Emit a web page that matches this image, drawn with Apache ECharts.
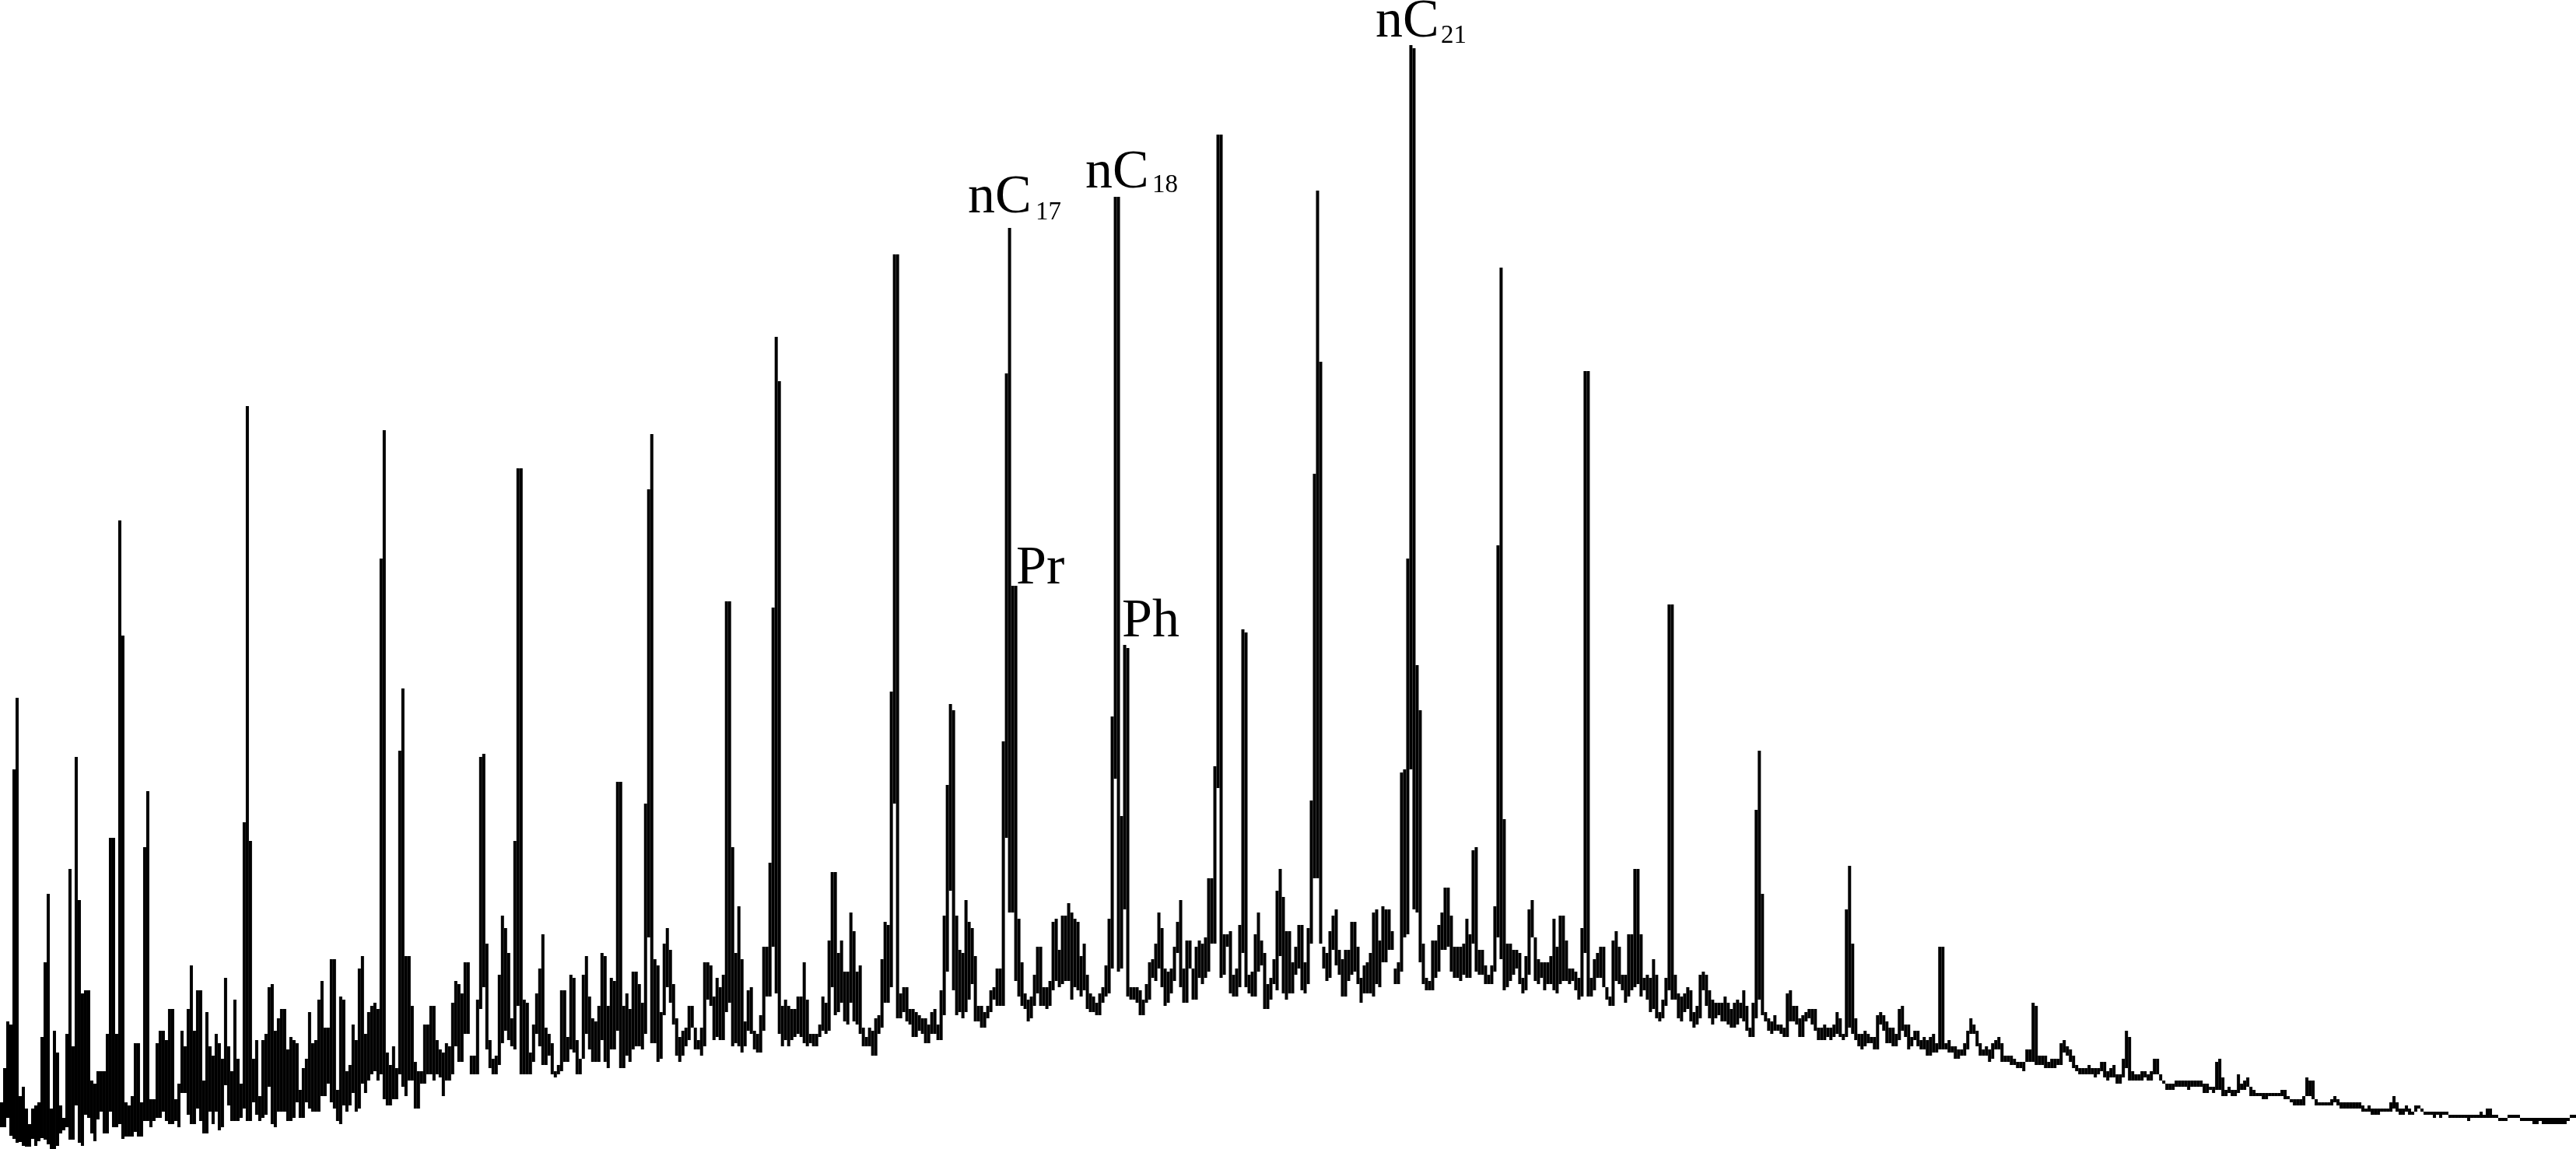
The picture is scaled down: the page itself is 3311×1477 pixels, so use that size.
<!DOCTYPE html>
<html>
<head>
<meta charset="utf-8">
<title>Chromatogram</title>
<script src="https://cdn.jsdelivr.net/npm/echarts@6/dist/echarts.min.js"></script>
<style>
html, body { margin: 0; padding: 0; background: #fff; }
#chart { width: 3311px; height: 1477px; }
</style>
</head>
<body>
<div id="chart"></div>
<script>
// 每一列是一个 [上沿, 下沿]，单位是信号强度，从图上读出来的
const columnsC10 = [
[60,28],[104,28],[164,40],[160,17],[488,13],[580,8],[68,9],[80,4],[52,3],[32,3],
[52,13],[56,4],[60,10],[144,14],[240,12],[328,6],[52,0],[152,0],[124,4],[56,20],
[40,24],[148,28],[360,12],[132,12],[504,56],[320,8],[200,4],[204,44],[204,40],[88,20],
[84,10],[100,38],[100,48],[100,20],[148,20],[400,48],[400,28],[148,28],[808,32],[660,13],
[60,16],[56,16],[68,16],[136,22],[136,16],[60,16],[388,36],[460,36],[64,28],[64,36],
[136,40],[152,40],[152,48],[140,36],[180,32],[180,32],[64,36],[84,28],[152,72],[132,72],
[180,44],[236,32],[152,32],[204,52],[204,36],[88,20],[176,20],[132,48],[120,32],[148,48],
[136,24],[116,28],[220,82],[132,56],[100,36],[192,36],[116,36],[84,40],[420,52],[955,36],
[396,36],[116,60],[140,44],[68,36],[140,40],[148,44],[208,80],[212,32],[152,28],[168,48],
[180,48],[180,48],[128,36],[144,36],[140,40],[136,60],[76,40],[104,40],[116,60],[176,52],
[136,48],[140,48],[192,48],[216,68],[156,68],[156,84],[244,60],[244,52],[76,36],[196,32],
[192,56],[100,48],[108,56],[160,72],[140,48],[232,52],[248,84],[148,72],[176,88],[184,96],
[188,100],[180,88],[759,96],[924,64],[124,56],[108,56],[132,64],[104,64],[512,96],[592,80],
[248,68],[248,88],[184,88],[112,52],[100,52],[100,84],[160,84],[160,96],[184,96],[184,88],
[140,96],[128,92],[124,68],[136,88],[132,88],[188,96],[216,132],[212,112],[200,112],[240,148]
];

const columnsC13 = [
[240,148],[120,96],[120,96],[192,96],[504,180],[508,208],[264,128],[140,104],[116,96],[120,96],
[224,108],[300,136],[284,152],[252,140],[168,132],[396,128],[875,184],[875,96],[192,96],[188,96],
[124,96],[160,112],[200,148],[232,132],[276,108],[156,108],[148,120],[136,96],[100,92],[108,96],
[204,100],[204,112],[144,112],[224,128],[220,124],[140,96],[116,96],[224,116],[248,148],[196,128],
[168,112],[164,112],[184,112],[252,140],[248,112],[184,104],[220,128],[216,128],[472,152],[472,104],
[184,104],[200,120],[180,112],[228,128],[228,132],[212,132],[188,128],[444,148],[848,272],[919,136],
[244,136],[236,112],[176,116],[264,172],[284,208],[256,188],[212,160],[168,120],[144,112],[152,120],
[156,132],[184,140],[184,156],[156,128],[140,128],[156,120],[240,132],[240,192],[236,184],[196,140],
[220,144],[208,140],[224,140],[704,176],[704,188],[388,132],[252,136],[312,132],[244,124],[164,132],
[204,152],[208,148],[152,128],[148,124],[172,124],[260,152],[260,196],[368,196],[696,260],[1044,200],
[987,148],[184,132],[192,140],[184,132],[180,140],[180,144],[196,148],[196,144],[240,136],[192,132],
[148,136],[148,132],[148,132],[160,144],[196,152],[188,148],[268,152],[356,208],[356,172],[252,176],
[268,188],[228,164],[228,160],[304,188],[280,164],[228,160],[236,148],[156,132],[144,132],[156,132],
[152,120],[168,120],[172,148],[244,156],[292,188],[288,188],[588,208],[1150,444],[1150,168],[200,168],
[208,176],[208,164],[180,160],[180,144],[176,144],[172,152],[168,148],[168,136],[160,136],[176,148]
];

const columnsC16 = [
[180,148],[160,140],[204,140],[300,172],[468,228],[572,332],[564,204],[300,172],[256,176],[252,168],
[320,176],[292,192],[284,212],[248,164],[184,164],[184,156],[176,156],[184,168],[204,176],[208,192],
[232,184],[232,184],[524,184],[997,400],[1184,304],[724,304],[724,216],[296,196],[240,184],[200,180],
[192,164],[196,168],[224,184],[260,200],[260,184],[208,184],[208,180],[216,184],[292,204],[296,216],
[256,208],[300,212],[300,216],[316,216],[304,192],[296,208],[292,204],[248,196],[264,204],[224,180],
[200,176],[196,176],[188,172],[200,172],[208,188],[236,196],[296,200],[556,232],[1224,476],[1224,228],
[428,232],[648,308],[644,196],[208,192],[208,192],[208,188],[204,172],[192,172],[212,188],[240,192],
[244,220],[264,216],[304,232],[284,208],[232,184],[228,188],[232,200],[260,216],[292,252],[320,208],
[232,188],[268,188],[268,232],[232,192],[260,192],[268,220],[264,212],[272,220],[348,228],[348,264],
[492,264],[1304,464],[1304,220],[276,224],[276,260],[280,200],[224,196],[232,196],[288,208],[668,252],
[664,208],[224,200],[228,196],[276,196],[304,228],[268,236],[252,180],[212,180],[220,192],[244,212],
[332,204],[360,248],[324,200],[280,192],[280,200],[240,200],[260,224],[288,232],[288,204],[240,200],
[284,212],[448,264],[868,348],[1232,348],[1012,264],[260,232],[252,216],[280,220],[300,256],[308,236],
[256,224],[244,196],[256,196],[256,216],[292,224],[292,228],[260,212],[220,188],[236,200],[240,200],
[252,200],[304,196],[308,212],[268,208],[312,240],[308,240],[308,256],[280,256],[232,212],[240,212]
];

const columnsC19 = [
[484,228],[488,272],[759,276],[1419,488],[1415,308],[622,304],[564,240],[264,212],[220,204],[216,204],
[268,204],[268,220],[288,228],[304,256],[336,256],[336,260],[300,228],[260,220],[260,220],[260,216],
[264,224],[296,220],[276,220],[384,264],[388,228],[256,224],[256,224],[236,212],[224,212],[236,212],
[312,228],[776,272],[1133,244],[424,204],[264,208],[264,216],[256,224],[256,232],[252,212],[220,200],
[248,204],[308,224],[320,272],[272,216],[244,212],[240,220],[240,204],[240,212],[248,212],[296,204],
[260,200],[300,212],[300,216],[268,216],[232,212],[232,216],[228,204],[220,192],[284,196],[1000,252],
[1000,196],[220,196],[244,204],[252,220],[260,220],[260,208],[208,192],[196,184],[268,184],[280,216],
[260,212],[224,204],[224,188],[276,196],[276,204],[360,208],[360,212],[276,196],[220,204],[224,192],
[220,176],[244,180],[224,168],[176,164],[192,168],[220,184],[700,204],[700,192],[224,192],[200,168],
[196,164],[200,176],[208,180],[204,164],[176,156],[184,160],[224,168],[228,204],[224,184],[204,168],
[192,160],[188,168],[188,172],[188,164],[196,164],[188,160],[180,156],[188,156],[192,160],[188,168],
[204,164],[184,152],[156,144],[188,144],[436,168],[512,192],[328,172],[176,164],[168,152],[164,148],
[172,152],[160,152],[160,148],[156,144],[200,144],[204,164],[184,164],[184,160],[168,144],[172,144],
[176,164],[180,168],[180,160],[180,152],[156,140],[156,140],[160,140],[156,144],[156,140],[160,144],
[176,148],[168,144],[148,140],[308,144],[364,156],[264,148],[168,140],[148,132],[148,128],[152,132]
];

const columnsTail = [
[148,136],[144,136],[144,128],[172,128],[176,160],[172,152],[164,136],[156,136],[156,132],[148,132],
[180,140],[184,152],[160,144],[160,128],[144,132],[152,140],[152,132],[140,128],[144,128],[140,120],
[144,120],[148,124],[136,124],[260,128],[260,128],[136,128],[140,124],[132,124],[132,116],[128,116],
[128,120],[136,120],[152,128],[168,148],[160,148],[152,132],[136,120],[128,120],[132,120],[128,112],
[136,116],[140,128],[144,128],[136,112],[120,112],[120,112],[120,108],[116,108],[112,104],[112,104],
[112,100],[128,112],[128,112],[188,112],[184,108],[120,108],[120,108],[120,104],[112,104],[116,104],
[116,104],[116,108],[136,108],[140,124],[132,120],[128,112],[120,104],[108,100],[104,96],[104,96],
[104,96],[108,96],[104,96],[104,92],[104,96],[112,100],[112,92],[100,88],[104,92],[108,92],
[96,84],[96,84],[116,92],[152,104],[144,88],[100,88],[96,88],[96,88],[100,88],[100,92],
[96,88],[100,88],[116,96],[116,96],[96,88],[88,84],[84,76],[84,76],[84,76],[88,80],
[88,80],[88,80],[88,80],[88,76],[88,80],[88,80],[88,80],[88,80],[84,72],[84,72],
[80,76],[80,72],[112,76],[116,76],[92,68],[76,68],[80,72],[76,68],[76,68],[96,72],
[84,76],[88,76],[92,80],[80,68],[76,68],[72,68],[72,68],[72,64],[72,64],[72,68],
[72,68],[72,68],[72,68],[76,68],[76,64],[68,64],[64,60],[64,56],[64,56],[64,56],
[68,56],[92,68],[88,68],[88,64],[64,56],[60,56],[60,56],[60,56],[60,56],[64,56],
[68,60],[64,56],[60,52],[60,52],[60,52],[60,52],[60,52],[60,52],[60,52],[56,48],
[52,48],[56,48],[52,44],[52,44],[52,44],[52,48],[52,48],[52,48],[60,48],[68,52],
[60,48],[52,44],[52,44],[56,48],[52,44],[48,44],[56,48],[56,52],[52,48],[48,44],
[48,44],[48,44],[48,40],[48,44],[48,40],[48,44],[48,44],[44,40],[44,40],[44,40],
[44,40],[44,40],[44,40],[44,36],[44,40],[44,40],[44,40],[48,40],[44,40],[52,40],
[52,40],[44,40],[44,40],[40,36],[40,36],[40,36],[44,40],[44,40],[44,40],[44,40],
[40,36],[40,36],[40,36],[40,36],[40,32],[40,32],[40,36],[40,32],[40,32],[40,32],
[40,32],[40,32],[40,32],[40,32],[40,32],[40,36],[44,40],[44,40]
];

// 峰的标注
const peakNames = ['nC', 'nC', 'nC', 'Pr', 'Ph'];
const peakSubscripts = ['17', '18', '21', '', ''];

const traceColumns = [].concat(columnsC10, columnsC13, columnsC16, columnsC19, columnsTail);
const scanIndex = traceColumns.map((c, i) => i);

const chart = echarts.init(document.getElementById('chart'), null, { renderer: 'canvas' });

const SERIF = '"Liberation Serif", "Times New Roman", serif';
// 标注文字的位置（像素，左边 / 基线）
const labelPos = [
    { x: 1244, y: 274, sx: 1331, sy: 283 },
    { x: 1395, y: 242, sx: 1481, sy: 248 },
    { x: 1768, y: 48, sx: 1852, sy: 56 },
    { x: 1306, y: 751 },
    { x: 1442, y: 819 }
];

function textAt(text, x, baseline, size) {
    return {
        type: 'text',
        x: x,
        // bottom 对齐时基线要往下补一点 descent
        y: baseline + size * 0.216,
        style: {
            text: text,
            font: size + 'px ' + SERIF,
            fill: '#000',
            textAlign: 'left',
            textVerticalAlign: 'bottom',
            lineHeight: size
        }
    };
}

const labelGraphics = [];
peakNames.forEach((name, i) => {
    const p = labelPos[i];
    labelGraphics.push(textAt(name, p.x, p.y, 70));
    if (peakSubscripts[i]) {
        labelGraphics.push(textAt(peakSubscripts[i], p.sx, p.sy, 33));
    }
});

// 每列画一个矩形，宽度取类目轴的带宽
function renderColumn(params, api) {
    const top = api.coord([api.value(0), api.value(1)]);
    const bottom = api.coord([api.value(0), api.value(2)]);
    const w = api.size([1, 0])[0];
    return {
        type: 'rect',
        shape: { x: top[0] - w / 2, y: top[1], width: w, height: bottom[1] - top[1] },
        style: { fill: '#000' }
    };
}

chart.setOption({
    animation: false,
    backgroundColor: '#fff',
    grid: { left: -1, top: 0, width: 3312, height: 1477 },
    xAxis: {
        type: 'category',
        data: scanIndex,
        show: false
    },
    yAxis: {
        type: 'value',
        min: 0,
        max: 1477,
        show: false
    },
    series: [
        {
            type: 'custom',
            renderItem: renderColumn,
            silent: true,
            encode: { x: 0, y: [1, 2] },
            data: traceColumns.map((c, i) => [i, c[0], c[1]])
        }
    ],
    graphic: labelGraphics
});

window.addEventListener('resize', function() {
    chart.resize();
});
</script>
</body>
</html>
